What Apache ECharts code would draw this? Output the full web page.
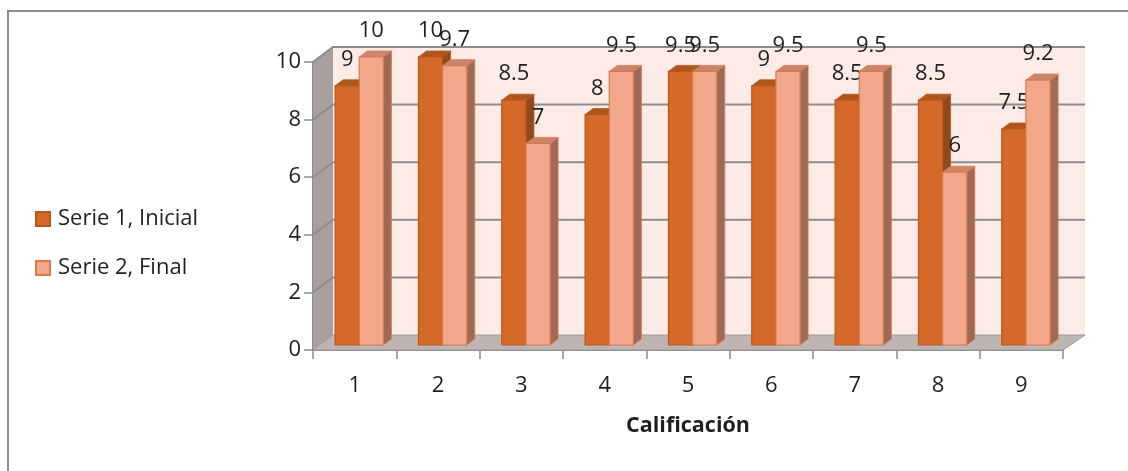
<!DOCTYPE html>
<html>
<head>
<meta charset="utf-8">
<script src="https://cdn.jsdelivr.net/npm/echarts@6/dist/echarts.min.js"></script>
<style>
  html, body { margin: 0; padding: 0; background: #ffffff; }
  #chart { width: 1128px; height: 471px; }
</style>
</head>
<body>
<div id="chart"></div>
<script>
// Calificaciones por alumno: inicial vs final
const categories = ['1', '2', '3', '4', '5', '6', '7', '8', '9'];
const inicial = [9, 10, 8.5, 8, 9.5, 9, 8.5, 8.5, 7.5];
const final = [10, 9.7, 7, 9.5, 9.5, 9.5, 9.5, 6, 9.2];
const yTicks = [0, 2, 4, 6, 8, 10];
const seriesNames = ['Serie 1, Inicial', 'Serie 2, Final'];

const FONT = '"Open Sans", "Liberation Sans", sans-serif';

// pseudo-3D geometry: depth of the walls and of the bars
const WALL_DX = 20, WALL_DY = -15;
const BAR_FX = 4.6, BAR_FY = -5;
const BAR_DX = 8, BAR_DY = -6;

const palettes = [
  { front: '#D4692A', border: '#B9581C', top: '#AD571D', side: '#8E4A1C' },
  { front: '#F2A78A', border: '#D77B4F', top: '#C9866C', side: '#9E6A56' }
];

function renderWalls(params, api) {
  const cs = params.coordSys;
  const x0 = cs.x, x1 = cs.x + cs.width;
  const yb = api.coord([0, 0])[1];
  const yt = api.coord([0, yTicks[yTicks.length - 1]])[1];
  const children = [];
  // back wall
  children.push({
    type: 'polygon',
    shape: { points: [[x0 + WALL_DX, yt + WALL_DY], [x1 + WALL_DX + 2, yt + WALL_DY], [x1 + WALL_DX + 2, yb + WALL_DY], [x0 + WALL_DX, yb + WALL_DY]] },
    style: { fill: '#FCEBE6' }
  });
  // side wall
  children.push({
    type: 'polygon',
    shape: { points: [[x0, yt], [x0 + WALL_DX, yt + WALL_DY], [x0 + WALL_DX, yb + WALL_DY], [x0, yb]] },
    style: { fill: '#A7A09E' }
  });
  // floor
  children.push({
    type: 'polygon',
    shape: { points: [[x0, yb], [x1, yb], [x1 + WALL_DX + 2, yb + WALL_DY], [x0 + WALL_DX, yb + WALL_DY]] },
    style: { fill: '#BEB5B2', stroke: '#9A9A9A', lineWidth: 1 }
  });
  // gridlines on the back and side walls
  yTicks.forEach(function (t) {
    if (t === 0) return;
    const y = api.coord([0, t])[1];
    children.push({
      type: 'polyline',
      shape: { points: [[x0, y], [x0 + WALL_DX, y + WALL_DY], [x1 + WALL_DX + 2, y + WALL_DY]] },
      style: { stroke: '#8C8C8C', lineWidth: 2, fill: null }
    });
  });
  return { type: 'group', children: children };
}

function makeBarRenderer(k) {
  const pal = palettes[k];
  return function (params, api) {
    const idx = api.value(0);
    const v = api.value(1);
    const band = api.size([1, 0])[0];
    const w = band * 0.29;
    const top = api.coord([idx, v]);
    const base = api.coord([idx, 0]);
    const xl = top[0] - w + BAR_FX + k * w;
    const xr = xl + w;
    const yt = top[1] + BAR_FY;
    const yb = base[1] + BAR_FY;
    return {
      type: 'group',
      children: [
        {
          type: 'polygon',
          shape: { points: [[xr, yt], [xr + BAR_DX, yt + BAR_DY], [xr + BAR_DX, yb + BAR_DY], [xr, yb]] },
          style: { fill: pal.side, stroke: pal.border, lineWidth: 0.8 }
        },
        {
          type: 'polygon',
          shape: { points: [[xl, yt], [xr, yt], [xr + BAR_DX, yt + BAR_DY], [xl + BAR_DX, yt + BAR_DY]] },
          style: { fill: pal.top, stroke: pal.border, lineWidth: 0.8 }
        },
        {
          type: 'rect',
          shape: { x: xl, y: yt, width: w, height: yb - yt },
          style: { fill: pal.front, stroke: pal.border, lineWidth: 1.2 }
        },
        {
          type: 'text',
          z2: 10,
          style: {
            text: String(v),
            x: (xl + xr) / 2,
            y: yt - 26,
            align: 'center',
            verticalAlign: 'middle',
            font: '22px ' + FONT,
            fill: '#1F1F1F'
          }
        }
      ]
    };
  };
}

const chart = echarts.init(document.getElementById('chart'));
chart.setOption({
  animation: false,
  backgroundColor: '#ffffff',
  graphic: [{
    type: 'rect',
    silent: true,
    shape: { x: 8, y: 11, width: 1200, height: 600 },
    style: { fill: null, stroke: '#8C8C8C', lineWidth: 2 }
  }],
  grid: { left: 313, right: 65, top: 62, bottom: 121 },
  legend: {
    data: seriesNames,
    orient: 'vertical',
    left: 35,
    top: 208,
    padding: 0,
    icon: 'rect',
    itemWidth: 14,
    itemHeight: 14,
    itemGap: 27,
    textStyle: { fontFamily: FONT, fontSize: 22, color: '#1F1F1F', lineHeight: 22, padding: [0, 0, 0, 3] }
  },
  xAxis: {
    type: 'category',
    data: categories,
    name: 'Calificación',
    nameLocation: 'middle',
    nameGap: 65,
    nameTextStyle: { fontFamily: FONT, fontSize: 21.5, fontWeight: 'bold', color: '#1F1F1F' },
    axisLine: { lineStyle: { color: '#8C8C8C', width: 2 } },
    axisTick: { show: true, length: 9, lineStyle: { color: '#8C8C8C', width: 1.5 } },
    axisLabel: { fontFamily: FONT, fontSize: 22, color: '#1F1F1F', margin: 25 },
    splitLine: { show: false }
  },
  yAxis: {
    type: 'value',
    min: 0,
    max: 10,
    interval: 2,
    axisLine: { show: true, lineStyle: { color: '#8C8C8C', width: 2 } },
    axisTick: { show: true, length: 9, lineStyle: { color: '#8C8C8C', width: 1.5 } },
    axisLabel: { fontFamily: FONT, fontSize: 22, color: '#1F1F1F', margin: 12 },
    splitLine: { show: false }
  },
  series: [
    {
      type: 'custom',
      name: 'walls',
      silent: true,
      z: 1,
      data: [[0, 0]],
      encode: { x: 0, y: 1 },
      renderItem: renderWalls
    },
    {
      type: 'custom',
      name: seriesNames[0],
      z: 2,
      itemStyle: { color: palettes[0].front, borderColor: palettes[0].border, borderWidth: 1 },
      data: categories.map(function (c, i) { return [i, inicial[i]]; }),
      encode: { x: 0, y: 1 },
      renderItem: makeBarRenderer(0)
    },
    {
      type: 'custom',
      name: seriesNames[1],
      z: 3,
      itemStyle: { color: palettes[1].front, borderColor: palettes[1].border, borderWidth: 1 },
      data: categories.map(function (c, i) { return [i, final[i]]; }),
      encode: { x: 0, y: 1 },
      renderItem: makeBarRenderer(1)
    }
  ]
});
</script>
</body>
</html>
